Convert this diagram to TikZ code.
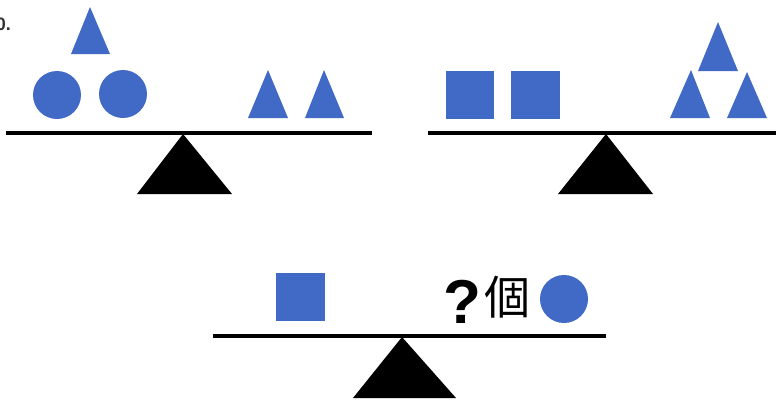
\documentclass[tikz,border=0pt]{standalone}
\usepackage{fontspec}
\setmainfont{Liberation Sans}
\newfontfamily\cjk{Noto Sans CJK JP}
\definecolor{shapeblue}{HTML}{4169C6}
\begin{document}
\begin{tikzpicture}[x=1pt,y=-1pt,
  piece/.style={fill=shapeblue},
  beam/.style={line width=4pt},
  pivot/.style={fill=black},
  txt/.style={inner sep=0pt,text=black}]
\useasboundingbox (0,0) rectangle (776,399);
% cut-off label
\node[txt,anchor=base east,text=black!80,font=\bfseries\fontsize{18}{20}\selectfont] (lbl) at (11,30) {0.};
% balance 1
\draw[beam] (6,133) -- (372,133);
\fill[pivot] (183,134) -- (232,194) -- (137,194) -- cycle;
\fill[piece] (57,95) circle (24);
\fill[piece] (123,94) circle (24);
\fill[piece] (90,7) -- (110,54) -- (71,54) -- cycle;
\fill[piece] (268,70) -- (288,118) -- (248,118) -- cycle;
\fill[piece] (324,70) -- (344,118) -- (305,118) -- cycle;
% balance 2
\draw[beam] (428,133) -- (776,133);
\fill[pivot] (606,134) -- (653,194) -- (558,194) -- cycle;
\fill[piece] (446,71) rectangle (494,119);
\fill[piece] (511,71) rectangle (560,119);
\fill[piece] (718,22) -- (738,71) -- (698,71) -- cycle;
\fill[piece] (691,70) -- (710,118) -- (670,118) -- cycle;
\fill[piece] (747,72) -- (767,118) -- (727,118) -- cycle;
% balance 3
\draw[beam] (213,336) -- (606,336);
\fill[pivot] (402,337) -- (456,398) -- (353,398) -- cycle;
\fill[piece] (276,273) rectangle (325,321);
\node[txt,anchor=base west,font=\bfseries\fontsize{62}{64}\selectfont] (q) at (443,323) {?};
\node[txt,anchor=west,font=\cjk\fontsize{46}{48}\selectfont] (ko) at (484,297) {個};
\fill[piece] (564,299) circle (24);
\end{tikzpicture}
\end{document}
